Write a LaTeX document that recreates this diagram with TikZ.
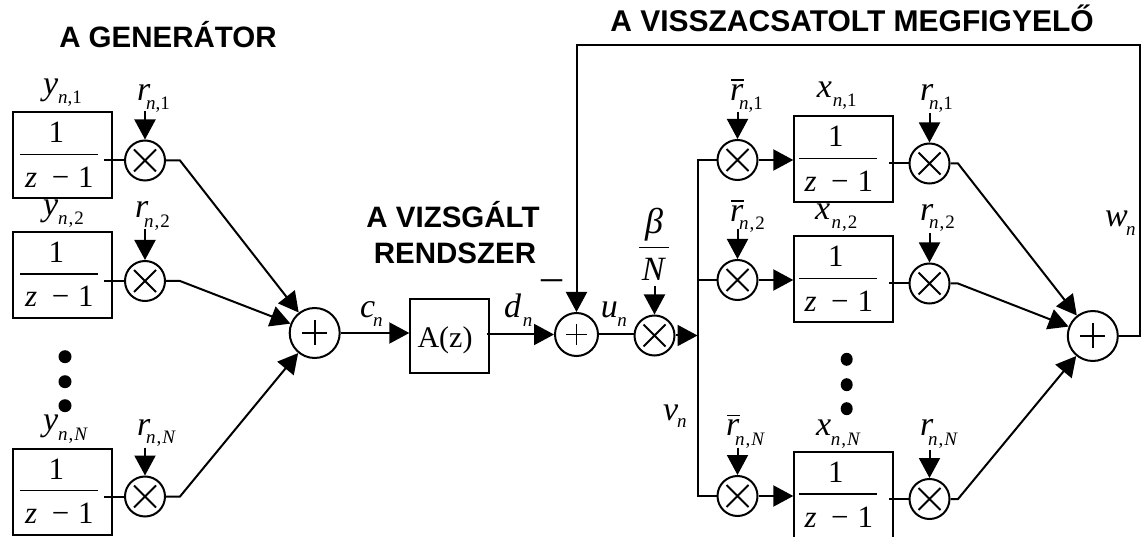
\documentclass[tikz,border=0pt]{standalone}
\usepackage{fontspec}
\setmainfont{Liberation Serif}
\newfontfamily\headf{Liberation Sans}
\usetikzlibrary{arrows.meta,calc,shapes.geometric}
\newcommand\mainf{\fontsize{34}{34}\selectfont}
\newcommand\subf{\fontsize{19}{19}\selectfont}
\newcommand\fracf{\fontsize{31}{31}\selectfont}
\newcommand\nsub[1]{\subf\textit{n},#1}
\newcommand\nsubw[1]{\subf\textit{n}\hspace{1pt},\hspace{1pt}#1}
\newcommand\rbar{\makebox[0pt][l]{\hspace{1pt}\raisebox{19.7pt}{\rule{13pt}{1.5pt}}}\textit{r}}
\tikzset{
  x=1pt,y=-1pt,
  wire/.style={line width=2pt,line join=miter},
  arr/.style={wire,-{Triangle[length=20pt,width=21pt]}},
  blockbox/.style={draw,line width=2pt,inner sep=0pt,anchor=north west},
  mul/.style={circle,draw,line width=2pt,inner sep=0pt,minimum size=40pt,
    path picture={\draw[line width=1.8pt]
      ($(path picture bounding box.center)+(-11,-11)$) -- ($(path picture bounding box.center)+(11,11)$)
      ($(path picture bounding box.center)+(-11,11)$) -- ($(path picture bounding box.center)+(11,-11)$);}},
  addbig/.style={circle,draw,line width=2pt,inner sep=0pt,minimum size=50pt,
    path picture={\draw[line width=1.8pt]
      ($(path picture bounding box.center)+(-12.5,0)$) -- ($(path picture bounding box.center)+(12.5,0)$)
      ($(path picture bounding box.center)+(0,-12.5)$) -- ($(path picture bounding box.center)+(0,12.5)$);}},
  addsmall/.style={circle,draw,line width=2pt,inner sep=0pt,minimum size=43pt,
    path picture={\draw[line width=1.8pt]
      ($(path picture bounding box.center)+(-10.5,0)$) -- ($(path picture bounding box.center)+(10.5,0)$)
      ($(path picture bounding box.center)+(0,-10.5)$) -- ($(path picture bounding box.center)+(0,10.5)$);}},
  lbl/.style={inner sep=0pt,anchor=base west},
  head/.style={inner sep=0pt,anchor=base,align=center,font=\headf\bfseries\fontsize{29.5}{36}\selectfont},
  dotmark/.style={ellipse,fill=black,inner sep=0pt,minimum width=13pt,minimum height=13pt},
}
% name, x, y, main, dx, dy, sub
\newcommand\lab[7]{\node[lbl] (#1) at (#2,#3) {\mainf\makebox[0pt][l]{#4}\hspace*{#5pt}\raisebox{-#6pt}{#7}};}
% name, left, top, fraction line start offset
\newcommand\fracbox[4]{%
  \node[blockbox,minimum width=98.5pt,minimum height=86pt] (#1) at (#2,#3) {};
  \coordinate (#1fa) at ($(#1.north west)+(#4,43)$);
  \coordinate (#1fb) at ($(#1fa)+(78,0)$);
  \draw[line width=1.3pt] (#1fa) -- (#1fb);
  \node[lbl] (#1one) at ($(#1.north west)+(#4+28.5,31.5)$) {\fracf 1};
  \node[lbl] (#1den) at ($(#1.north west)+(#4+5,76)$) {\fracf\textit{z}\hspace{14.5pt}\char"2212\hspace{9pt}1};
}
\begin{document}
\begin{tikzpicture}
\useasboundingbox (0,0) rectangle (1141,537);
% headings
\node[head] (h1) at (168,48) {A GENERÁTOR};
\node[head,font=\headf\bfseries\fontsize{30}{36}\selectfont] (h2) at (852,32) {A VISSZACSATOLT MEGFIGYELŐ};
\node[head] (h3) at (453,228) {A VIZSGÁLT};
\node[head] (h4) at (455,264) {RENDSZER};
% generator
\fracbox{g1}{12}{111.5}{8}
\fracbox{g2}{12}{231}{8}
\fracbox{gN}{12}{447.7}{8}
\node[mul] (gm1) at (145,160.5) {};
\node[mul] (gm2) at (145,281) {};
\node[mul] (gmN) at (145,496.5) {};
\node[addbig] (p1) at (314.7,333) {};
\node[dotmark] (gd1) at (65,356.7) {};
\node[dotmark] (gd2) at (65,381.7) {};
\node[dotmark] (gd3) at (65,405.7) {};
% system
\node[blockbox,minimum width=78.5pt,minimum height=74pt] (sys) at (409.3,297.7)
  {\fontsize{30}{30}\selectfont\raisebox{-12pt}[0pt][0pt]{A(z)}\hspace*{9pt}};
\node[addsmall] (p2) at (576.5,334.5) {};
\node[mul] (mb) at (654.5,335.5) {};
% observer
\node[mul] (a1) at (737.5,160) {};
\node[mul] (a2) at (737.5,280) {};
\node[mul] (aN) at (737.5,496) {};
\fracbox{x1}{793.3}{115.3}{6}
\fracbox{x2}{793.3}{235.3}{6}
\fracbox{xN}{793.3}{451}{6}
\node[mul] (b1) at (929.5,163.5) {};
\node[mul] (b2) at (929.5,283.5) {};
\node[mul] (bN) at (929.5,499) {};
\node[addbig] (pR) at (1092.8,336) {};
\node[dotmark,minimum width=12pt] (xd1) at (846.7,359.3) {};
\node[dotmark,minimum width=12pt] (xd2) at (846.7,384.7) {};
\node[dotmark,minimum width=12pt] (xd3) at (846.7,408.7) {};
% junction coordinates
\coordinate (gj1) at (180,160.5);
\coordinate (gj2) at (180,281);
\coordinate (gjN) at (180,496.5);
\coordinate (bj1) at (958,163.5);
\coordinate (bj2) at (958,283.5);
\coordinate (bjN) at (958,499);
\coordinate (bus) at (697.5,335.5);
\coordinate (fbr) at (1140,45);
% box to multiplier stubs
\foreach \m in {gm1,gm2,gmN,b1,b2,bN}{\draw[wire] (\m.west) -- ++(-20,0);}
% generator outputs
\draw[arr] (gm1.east) -- (gj1) -- (p1);
\draw[arr] (gm2.east) -- (gj2) -- (p1);
\draw[arr] (gmN.east) -- (gjN) -- (p1);
% centre chain
\draw[arr] (p1.east) -- (sys.west |- p1.east);
\draw[arr] ([xshift=-3pt]sys.east |- p2.west) -- (p2.west);
\draw[wire] (p2.east) -- (mb.west |- p2.east);
\draw[arr] (mb.east) -- (bus);
% bus
\draw[wire] (a1.west) -| (bus) |- (aN.west);
\draw[wire] (a2.west) -- (bus |- a2.west);
% observer forward paths
\draw[arr] (a1.east) -- (x1.west |- a1.east);
\draw[arr] (a2.east) -- (x2.west |- a2.east);
\draw[arr] (aN.east) -- (xN.west |- aN.east);
\draw[arr] (b1.east) -- (bj1) -- (pR);
\draw[arr] (b2.east) -- (bj2) -- (pR);
\draw[arr] (bN.east) -- (bjN) -- (pR);
% feedback
\draw[arr] (pR.east) -| (fbr) -| (p2.north);
% vertical inputs
\foreach \m/\t in {gm1/111,gm2/229,gmN/447.7,a1/111.7,a2/229,aN/447.7,b1/113,b2/233,bN/450,mb/286}{
  \coordinate (\m in) at (\m.north |- 0,\t);
  \draw[arr] (\m in) -- (\m.north);
}
% labels
\lab{ly1}{43}{94.5}{\textit{y}}{15}{9.5}{\nsub{1}}
\lab{ly2}{43}{216}{\textit{y}}{15}{9}{\nsubw{2}}
\lab{lyN}{43}{430}{\textit{y}}{15}{10}{\nsubw{\textit{N}}}
\lab{lr1}{137}{100.7}{\textit{r}}{9}{8.5}{\nsub{1}}
\lab{lr2}{135}{218}{\textit{r}}{9}{9.5}{\nsubw{2}}
\lab{lrN}{137}{435}{\textit{r}}{9}{8.5}{\nsubw{\textit{N}}}
\lab{lc}{360}{317.7}{\textit{c}}{13}{8.5}{\subf\textit{n}}
\lab{ld}{504}{317.7}{\textit{d}}{18.7}{8.5}{\subf\textit{n}}
\lab{lu}{600.7}{317.7}{\textit{u}}{16.5}{8.5}{\subf\textit{n}}
\lab{lv}{663}{420}{\textit{v}}{14}{7.5}{\subf\textit{n}}
\lab{lw}{1105}{226.7}{\textit{w}}{21}{8.5}{\subf\textit{n}}
\lab{lab1}{730}{100.7}{\rbar}{9}{8.5}{\nsub{1}}
\lab{lab2}{730}{221.7}{\rbar}{9}{8}{\nsubw{2}}
\lab{labN}{726}{435.7}{\rbar}{9}{9.5}{\nsubw{\textit{N}}}
\lab{lx1}{816.7}{98}{\textit{x}}{16}{8.7}{\nsub{1}}
\lab{lx2}{815}{220}{\textit{x}}{16.5}{9}{\nsubw{2}}
\lab{lxN}{816}{435.7}{\textit{x}}{14.7}{9.5}{\nsubw{\textit{N}}}
\lab{lb1}{920}{100.7}{\textit{r}}{9}{8.5}{\nsub{1}}
\lab{lb2}{920}{221}{\textit{r}}{9}{8}{\nsubw{2}}
\lab{lbN}{920}{435.7}{\textit{r}}{8}{9.5}{\nsubw{\textit{N}}}
% beta over N
\node[inner sep=0pt,anchor=base] (lbeta) at (654,234) {\fontsize{36}{36}\selectfont\textit{β}};
\coordinate (fra) at (639,247.7);
\coordinate (frb) at (669,247.7);
\draw[line width=1.3pt] (fra) -- (frb);
\node[inner sep=0pt,anchor=base] (lN) at (654,280.7) {\mainf\textit{N}};
% minus
\node[inner sep=0pt,anchor=base] (lminus) at (551.5,291) {\fontsize{42}{42}\selectfont –};
\end{tikzpicture}
\end{document}
